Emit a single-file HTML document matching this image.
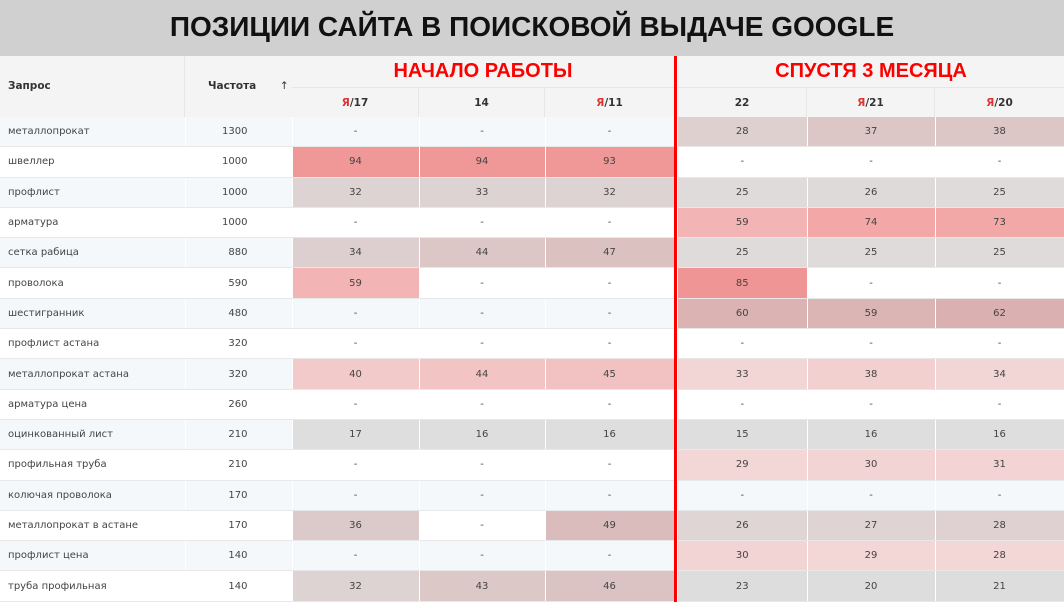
<!DOCTYPE html><html><head><meta charset="utf-8"><style>
body{margin:0;width:1064px;height:602px;overflow:hidden;background:#fff;font-family:"DejaVu Sans","Liberation Sans",sans-serif;position:relative}
.title{position:absolute;left:0;top:0;width:1064px;height:56px;background:#d0d0d0;text-align:center;font:bold 28px/54px "Liberation Sans",sans-serif;color:#111}
.hd{position:absolute;background:#f4f4f4;font-size:10.5px;font-weight:bold;color:#333;box-sizing:border-box}
.big{position:absolute;top:56px;height:31px;color:#f00;font:bold 20px/31px "Liberation Sans",sans-serif;text-align:center;background:#f4f4f4}
table{position:absolute;top:117px;border-collapse:collapse;font-size:10px;color:#444;table-layout:fixed}
td{height:29.3px;padding:0;text-align:center;border-bottom:1px solid #e8e8e8;border-right:1px solid #fff;overflow:hidden;white-space:nowrap}
td.q{text-align:left;padding-left:8px}
td.f{text-align:right;padding-right:44px}
tr:nth-child(odd) td{background:#f5f8fb}
.y{color:#d33}
</style></head><body>
<div class="title">ПОЗИЦИИ САЙТА В ПОИСКОВОЙ ВЫДАЧЕ GOOGLE</div>
<div class="hd" style="left:0;top:56px;width:185px;height:61px;line-height:61px;padding-left:8px;border-right:1px solid #e6e6e6">Запрос</div>
<div class="hd" style="left:185px;top:56px;width:107px;height:61px;line-height:61px;padding-left:23px">Частота <span style="font-weight:normal;margin-left:20px">↑</span></div>
<div class="big" style="left:292px;width:382px">НАЧАЛО РАБОТЫ</div>
<div class="big" style="left:678px;width:386px">СПУСТЯ 3 МЕСЯЦА</div>
<div class="hd" style="left:292px;top:87px;width:127px;height:30px;line-height:30px;text-align:center;border-right:1px solid #e6e6e6;border-top:1px solid #e6e6e6"><span class="y">Я</span>/17</div>
<div class="hd" style="left:419px;top:87px;width:126px;height:30px;line-height:30px;text-align:center;border-right:1px solid #e6e6e6;border-top:1px solid #e6e6e6">14</div>
<div class="hd" style="left:545px;top:87px;width:129px;height:30px;line-height:30px;text-align:center;border-top:1px solid #e6e6e6"><span class="y">Я</span>/11</div>
<div class="hd" style="left:678px;top:87px;width:129px;height:30px;line-height:30px;text-align:center;border-right:1px solid #e6e6e6;border-top:1px solid #e6e6e6">22</div>
<div class="hd" style="left:807px;top:87px;width:128px;height:30px;line-height:30px;text-align:center;border-right:1px solid #e6e6e6;border-top:1px solid #e6e6e6"><span class="y">Я</span>/21</div>
<div class="hd" style="left:935px;top:87px;width:129px;height:30px;line-height:30px;text-align:center;border-top:1px solid #e6e6e6"><span class="y">Я</span>/20</div>
<table style="left:0;width:674px"><colgroup><col style="width:185px"><col style="width:107px"><col style="width:127px"><col style="width:126px"><col style="width:129px"></colgroup>
<tr><td class="q">металлопрокат</td><td class="f">1300</td><td>-</td><td>-</td><td>-</td></tr>
<tr><td class="q">швеллер</td><td class="f">1000</td><td style="background:#f09797">94</td><td style="background:#f09797">94</td><td style="background:#f09898">93</td></tr>
<tr><td class="q">профлист</td><td class="f">1000</td><td style="background:#ddd3d3">32</td><td style="background:#ddd3d3">33</td><td style="background:#ddd3d3">32</td></tr>
<tr><td class="q">арматура</td><td class="f">1000</td><td>-</td><td>-</td><td>-</td></tr>
<tr><td class="q">сетка рабица</td><td class="f">880</td><td style="background:#ddcfcf">34</td><td style="background:#ddc6c6">44</td><td style="background:#dcc1c1">47</td></tr>
<tr><td class="q">проволока</td><td class="f">590</td><td style="background:#f2b4b4">59</td><td>-</td><td>-</td></tr>
<tr><td class="q">шестигранник</td><td class="f">480</td><td>-</td><td>-</td><td>-</td></tr>
<tr><td class="q">профлист астана</td><td class="f">320</td><td>-</td><td>-</td><td>-</td></tr>
<tr><td class="q">металлопрокат астана</td><td class="f">320</td><td style="background:#f3caca">40</td><td style="background:#f3c4c4">44</td><td style="background:#f2c1c1">45</td></tr>
<tr><td class="q">арматура цена</td><td class="f">260</td><td>-</td><td>-</td><td>-</td></tr>
<tr><td class="q">оцинкованный лист</td><td class="f">210</td><td style="background:#dedede">17</td><td style="background:#dedede">16</td><td style="background:#dedede">16</td></tr>
<tr><td class="q">профильная труба</td><td class="f">210</td><td>-</td><td>-</td><td>-</td></tr>
<tr><td class="q">колючая проволока</td><td class="f">170</td><td>-</td><td>-</td><td>-</td></tr>
<tr><td class="q">металлопрокат в астане</td><td class="f">170</td><td style="background:#dccaca">36</td><td>-</td><td style="background:#dbbcbc">49</td></tr>
<tr><td class="q">профлист цена</td><td class="f">140</td><td>-</td><td>-</td><td>-</td></tr>
<tr><td class="q">труба профильная</td><td class="f">140</td><td style="background:#ddd3d3">32</td><td style="background:#ddc8c8">43</td><td style="background:#dcc3c3">46</td></tr>
</table>
<div style="position:absolute;left:674px;top:56px;width:3px;height:546px;background:#f00"></div>
<table style="left:678px;width:386px"><colgroup><col style="width:129px"><col style="width:128px"><col style="width:129px"></colgroup>
<tr><td style="background:#dfd0d0">28</td><td style="background:#dcc6c6">37</td><td style="background:#dcc6c6">38</td></tr>
<tr><td>-</td><td>-</td><td>-</td></tr>
<tr><td style="background:#dfdbdb">25</td><td style="background:#dfdada">26</td><td style="background:#dfdbdb">25</td></tr>
<tr><td style="background:#f2b4b4">59</td><td style="background:#f3a7a7">74</td><td style="background:#f3a8a8">73</td></tr>
<tr><td style="background:#dfdbdb">25</td><td style="background:#dfdbdb">25</td><td style="background:#dfdbdb">25</td></tr>
<tr><td style="background:#ef9595">85</td><td>-</td><td>-</td></tr>
<tr><td style="background:#dbb3b3">60</td><td style="background:#dbb4b4">59</td><td style="background:#dbb0b0">62</td></tr>
<tr><td>-</td><td>-</td><td>-</td></tr>
<tr><td style="background:#f2d6d6">33</td><td style="background:#f2d0d0">38</td><td style="background:#f2d5d5">34</td></tr>
<tr><td>-</td><td>-</td><td>-</td></tr>
<tr><td style="background:#dedede">15</td><td style="background:#dedede">16</td><td style="background:#dedede">16</td></tr>
<tr><td style="background:#f3d6d6">29</td><td style="background:#f3d4d4">30</td><td style="background:#f3d3d3">31</td></tr>
<tr><td>-</td><td>-</td><td>-</td></tr>
<tr><td style="background:#dfd5d5">26</td><td style="background:#dfd3d3">27</td><td style="background:#dfd1d1">28</td></tr>
<tr><td style="background:#f3d4d4">30</td><td style="background:#f3d6d6">29</td><td style="background:#f3d7d7">28</td></tr>
<tr><td style="background:#dddddd">23</td><td style="background:#dddddd">20</td><td style="background:#dddddd">21</td></tr>
</table>
</body></html>
